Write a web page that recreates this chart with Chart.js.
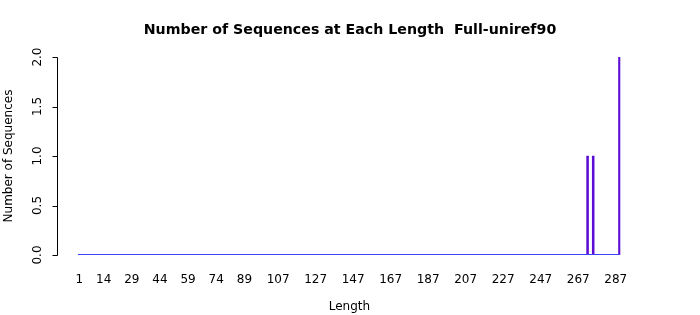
<!DOCTYPE html>
<html>
<head>
<meta charset="utf-8">
<script src="https://cdn.jsdelivr.net/npm/chart.js@4/dist/chart.umd.min.js"></script>
<style>
  html, body { margin: 0; padding: 0; background: #fff; }
  #wrap { width: 700px; height: 315px; }
</style>
</head>
<body>
<div id="wrap"><canvas id="lengthChart"></canvas></div>
<script>
// Longitudes observadas y cuantas secuencias hay de cada una
const seqLengths = [272, 275, 289];
const seqCounts = [1, 1, 2];
const maxLength = 289;
// Etiquetas del eje x que se ven en la imagen
const shownTicks = ['1', '14', '29', '44', '59', '74', '89', '107', '127', '147', '167', '187', '207', '227', '247', '267', '287'];
const yTicks = [0, 0.5, 1, 1.5, 2];

// Tabla completa 1..maxLength (las que no aparecen van en cero)
const labels = [];
const values = [];
for (let i = 1; i <= maxLength; i++) {
  labels.push(String(i));
  const k = seqLengths.indexOf(i);
  values.push(k >= 0 ? seqCounts[k] : 0);
}

const fontFam = '"DejaVu Sans", sans-serif';

// Eje y estilo R: separado de las barras y con etiquetas giradas
// y la linea base azul de las barras en cero
const rAxisY = {
  id: 'rAxisY',
  afterDatasetsDraw(chart) {
    const c = chart.ctx;
    const sx = chart.scales.x;
    const sy = chart.scales.y;
    const half = (sx.getPixelForValue(1) - sx.getPixelForValue(0)) / 2;
    const yb = Math.round(sy.getPixelForValue(0)) - 0.5;
    c.save();
    c.strokeStyle = '#4040ff';
    c.lineWidth = 1;
    c.beginPath();
    c.moveTo(Math.round(sx.getPixelForValue(0) - half), yb);
    c.lineTo(Math.round(sx.getPixelForValue(labels.length - 1) + half), yb);
    c.stroke();
    c.restore();
  },
  afterDraw(chart) {
    const c = chart.ctx;
    const sy = chart.scales.y;
    const x0 = 57.5;
    c.save();
    c.strokeStyle = '#000';
    c.lineWidth = 1;
    c.beginPath();
    c.moveTo(x0, Math.round(sy.getPixelForValue(yTicks[0])) + 0.5);
    c.lineTo(x0, Math.round(sy.getPixelForValue(yTicks[yTicks.length - 1])) + 0.5);
    yTicks.forEach(v => {
      const py = Math.round(sy.getPixelForValue(v)) + 0.5;
      c.moveTo(x0, py);
      c.lineTo(x0 - 5, py);
    });
    c.stroke();
    c.fillStyle = '#000';
    c.font = '12px ' + fontFam;
    c.textAlign = 'center';
    c.textBaseline = 'middle';
    yTicks.forEach(v => {
      const py = sy.getPixelForValue(v);
      c.save();
      c.translate(38, py);
      c.rotate(-Math.PI / 2);
      c.fillText(v.toFixed(1), 0, 0);
      c.restore();
    });
    c.restore();
  }
};

const bgPlugin = {
  id: 'bg',
  beforeDraw(chart) {
    const c = chart.ctx;
    c.save();
    c.fillStyle = '#fff';
    c.fillRect(0, 0, chart.width, chart.height);
    c.restore();
  }
};

new Chart(document.getElementById('lengthChart'), {
  type: 'bar',
  data: {
    labels: labels,
    datasets: [{
      data: values,
      // las barras en cero no se pintan, solo queda la linea base azul
      backgroundColor: ctx => (ctx.raw > 0 ? '#5c0cd4' : 'rgba(0,0,0,0)'),
      borderWidth: 0,
      categoryPercentage: 1,
      barPercentage: 1
    }]
  },
  options: {
    responsive: true,
    maintainAspectRatio: false,
    animation: false,
    layout: { padding: 0 },
    plugins: {
      legend: { display: false },
      tooltip: { enabled: false },
      title: {
        display: true,
        text: 'Number of Sequences at Each Length  Full-uniref90',
        color: '#000',
        font: { family: fontFam, size: 14.2, weight: 'bold' },
        padding: { top: 22, bottom: 18 }
      }
    },
    scales: {
      x: {
        offset: true,
        grid: { display: false, drawTicks: false },
        border: { display: false },
        ticks: {
          autoSkip: false,
          maxRotation: 0,
          minRotation: 0,
          padding: 18,
          color: '#000',
          font: { family: fontFam, size: 12 },
          callback: function(val) {
            const lab = this.getLabelForValue(val);
            return shownTicks.includes(lab) ? lab : '';
          }
        },
        title: {
          display: true,
          text: 'Length',
          color: '#000',
          font: { family: fontFam, size: 12 },
          padding: { top: 0, bottom: 1 }
        },
        afterFit(scale) { scale.height = 60; }
      },
      y: {
        min: 0,
        max: 2,
        grid: { display: false, drawTicks: false },
        border: { display: false },
        ticks: { display: false },
        title: {
          display: true,
          text: 'Number of Sequences',
          color: '#000',
          font: { family: fontFam, size: 12 },
          padding: { top: 2, bottom: 0 }
        },
        afterFit(scale) { scale.width = 78.4; }
      },
      // hueco a la derecha para que el titulo quede centrado en la pagina
      yRight: {
        position: 'right',
        display: true,
        grid: { display: false, drawTicks: false },
        border: { display: false },
        ticks: { display: false },
        afterFit(scale) { scale.width = 79.6; }
      }
    }
  },
  plugins: [bgPlugin, rAxisY]
});
</script>
</body>
</html>
